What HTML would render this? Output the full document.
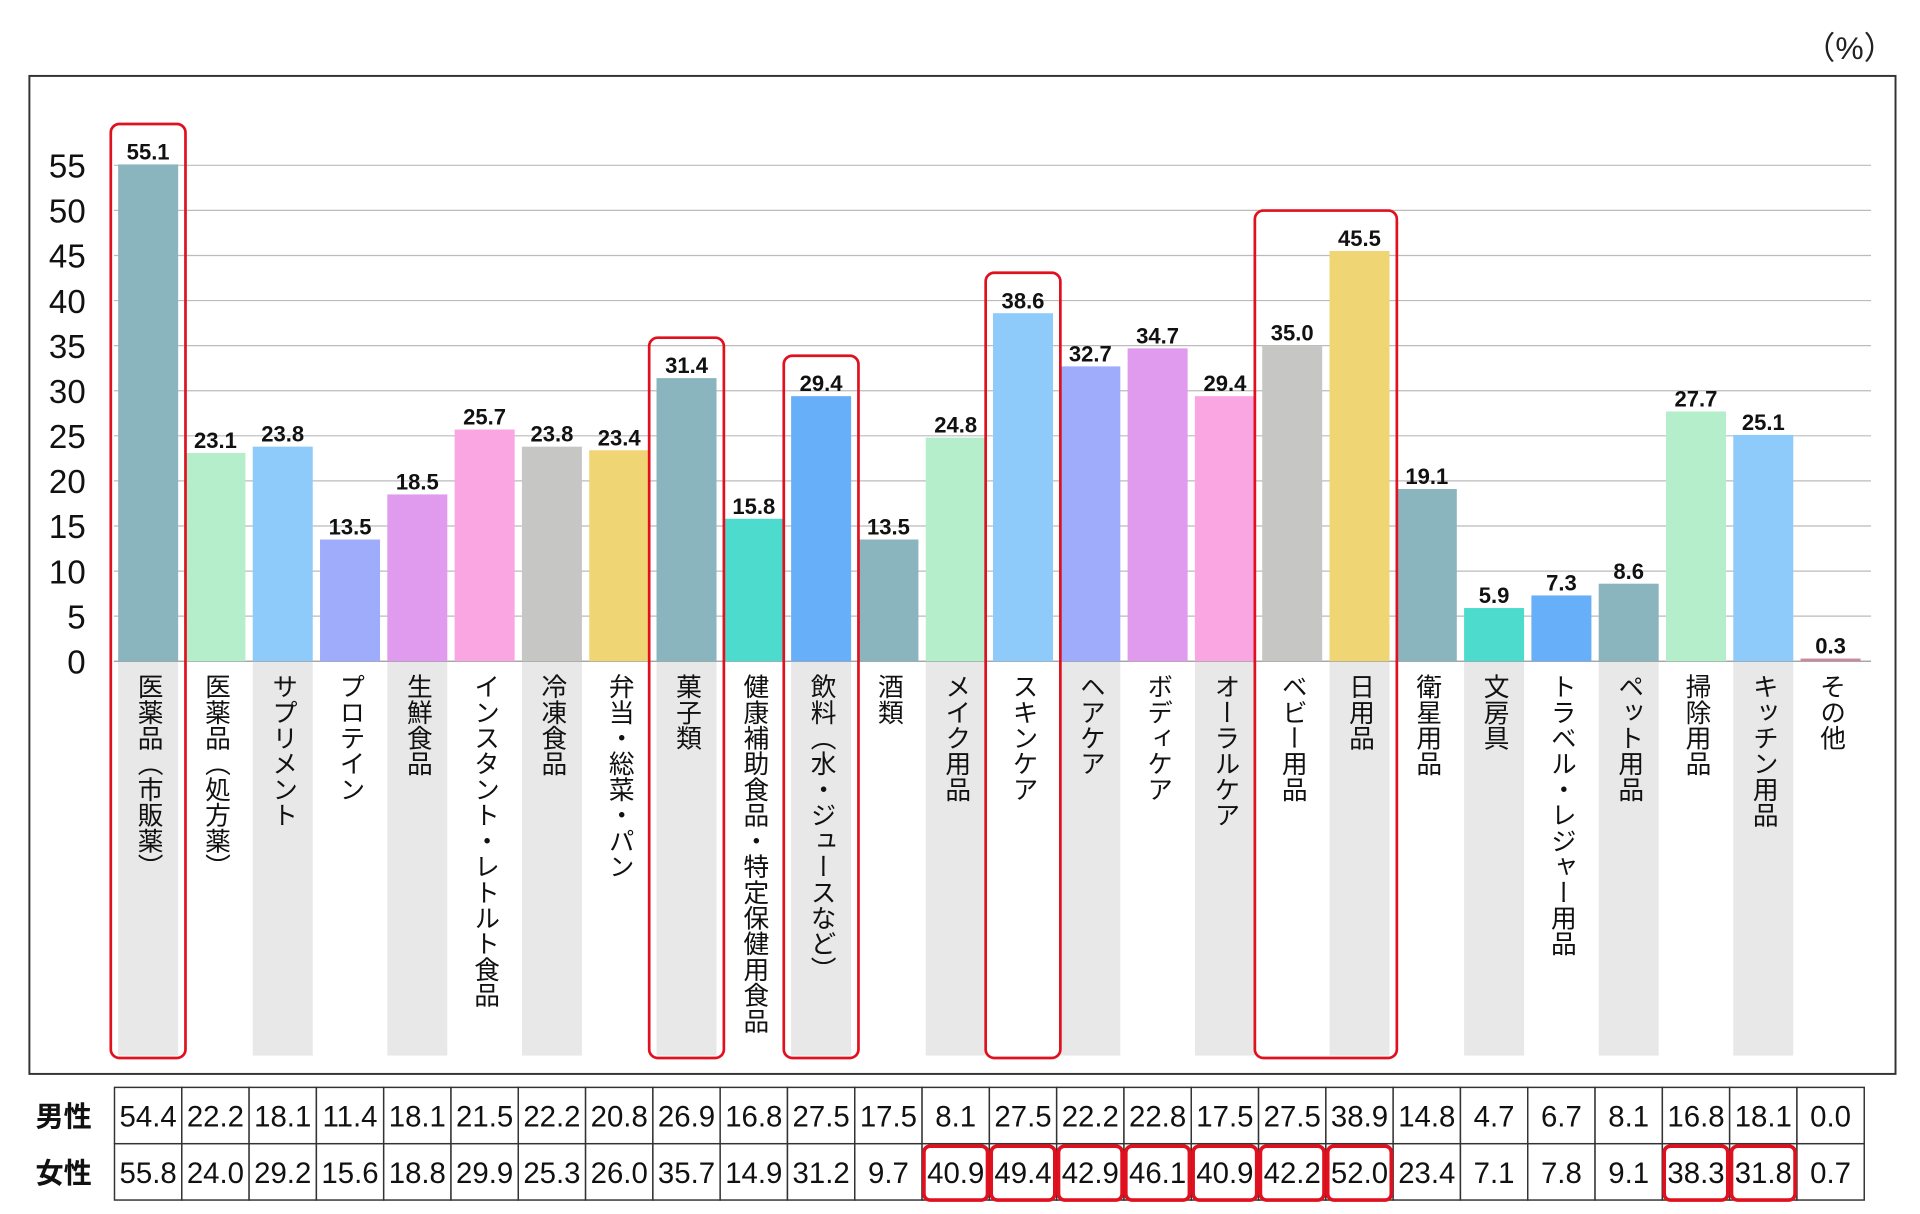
<!DOCTYPE html>
<html><head><meta charset="utf-8"><style>
html,body{margin:0;padding:0;background:#fff;}
svg{display:block;}
text{font-family:"Liberation Sans","Noto Sans CJK JP",sans-serif;}
</style></head><body>
<svg id="chart" width="1920" height="1214" viewBox="0 0 1568 991.4" preserveAspectRatio="none" xmlns="http://www.w3.org/2000/svg"></svg>
<script>
const categories=["医薬品（市販薬）","医薬品（処方薬）","サプリメント","プロテイン","生鮮食品","インスタント・レトルト食品","冷凍食品","弁当・総菜・パン","菓子類","健康補助食品・特定保健用食品","飲料（水・ジュースなど）","酒類","メイク用品","スキンケア","ヘアケア","ボディケア","オーラルケア","ベビー用品","日用品","衛星用品","文房具","トラベル・レジャー用品","ペット用品","掃除用品","キッチン用品","その他"];
const totalValues=[55.1,23.1,23.8,13.5,18.5,25.7,23.8,23.4,31.4,15.8,29.4,13.5,24.8,38.6,32.7,34.7,29.4,35.0,45.5,19.1,5.9,7.3,8.6,27.7,25.1,0.3];
const maleValues=[54.4,22.2,18.1,11.4,18.1,21.5,22.2,20.8,26.9,16.8,27.5,17.5,8.1,27.5,22.2,22.8,17.5,27.5,38.9,14.8,4.7,6.7,8.1,16.8,18.1,0.0];
const femaleValues=[55.8,24.0,29.2,15.6,18.8,29.9,25.3,26.0,35.7,14.9,31.2,9.7,40.9,49.4,42.9,46.1,40.9,42.2,52.0,23.4,7.1,7.8,9.1,38.3,31.8,0.7];
const yTicks=[0,5,10,15,20,25,30,35,40,45,50,55];
const highlightGroups=[[0,0],[8,8],[10,10],[13,13],[17,18]];
const femaleHighlights=[12,13,14,15,16,17,18,23,24];

const colors=["#8ab5bf","#b5eecb","#8ecbfb","#9eacfb","#e09bee","#f9a6e3","#c6c7c5","#f0d574","#8ab5bf","#4cdbcc","#68affa","#8ab5bf","#b5eecb","#8ecbfb","#9eacfb","#e09bee","#f9a6e3","#c6c7c5","#f0d574","#8ab5bf","#4cdbcc","#68affa","#8ab5bf","#b5eecb","#8ecbfb","#c98a9f"];
const NS="http://www.w3.org/2000/svg";
const svg=document.getElementById('chart');
const x0=93.5, pitch=54.96, barW=49, y0=540, yTop=135;
const yScale=v=>y0-(v/55)*(y0-yTop);
const xCenter=i=>x0+pitch*i+pitch/2;
function el(tag,attrs,parent){const e=document.createElementNS(NS,tag);for(const k in attrs)e.setAttribute(k,attrs[k]);(parent||svg).appendChild(e);return e;}

// frame
let f=el('rect',{x:24,y:62,width:1524,height:815,fill:'none',stroke:'#333','stroke-width':1.6});


let u=el('text',{x:1548,y:48,'text-anchor':'end','font-size':26,fill:'#222'});u.textContent='（%）';



// category panels
categories.forEach((c,i)=>{
  if(i%2===0){
    const p=el('rect',{x:xCenter(i)-barW/2,y:y0,width:barW,height:322,fill:'#e8e8e8'});
    
    
  }
});
// grid & ticks
yTicks.forEach(t=>{
  const y=yScale(t);
  const g=el('line',{x1:93,x2:1528,y1:y,y2:y,stroke:t===0?'#999':'#bbb','stroke-width':1});
  
  
  const tx=el('text',{x:70,y:y+10,'text-anchor':'end','font-size':27,fill:'#111'});
  tx.textContent=t;
  
  
});
// bars
totalValues.forEach((v,i)=>{
  const y=yScale(v);
  const b=el('rect',{x:xCenter(i)-barW/2,y:y,width:barW,height:y0-y,fill:colors[i]});
  
  
  const t=el('text',{x:xCenter(i),y:y-4,'text-anchor':'middle','font-size':18,'font-weight':'bold',fill:'#111'});
  t.textContent=v.toFixed(1);
  
  
  const c=el('text',{x:xCenter(i),y:y0+10,'font-size':21,fill:'#111','writing-mode':'tb','style':'writing-mode:vertical-rl'});
  c.textContent=categories[i];
  
  
});
// highlight boxes
highlightGroups.forEach(([a,b])=>{
  const top=yScale(Math.max(...totalValues.slice(a,b+1)))-33;
  const r=el('rect',{x:xCenter(a)-barW/2-6,y:top,width:xCenter(b)-xCenter(a)+barW+12,height:864-top,rx:7,fill:'none',stroke:'#e0101e','stroke-width':2.2});
  
  
});
// table
const tTop=888,rowH=46;
[['男性',maleValues],['女性',femaleValues]].forEach(([lab,vals],r)=>{
  const y=tTop+r*rowH;
  const l=el('text',{x:52,y:y+32,'text-anchor':'middle','font-size':23,'font-weight':'bold',fill:'#111'});
  l.textContent=lab;
  
  
  vals.forEach((v,i)=>{
    const cx=x0+pitch*i;
    const cell=el('rect',{x:cx,y:y,width:pitch,height:rowH,fill:'#fff',stroke:'#333','stroke-width':1.2});
    
    
    const t=el('text',{x:cx+pitch/2,y:y+32,'text-anchor':'middle','font-size':24,fill:'#111'});
    t.textContent=v.toFixed(1);
    
    
  });
});
femaleHighlights.forEach(i=>{
  const h=el('rect',{x:x0+pitch*i+1.5,y:tTop+rowH+2,width:pitch-3,height:rowH-2,rx:5,fill:'none',stroke:'#e0101e','stroke-width':3});
  
  
});
</script>
</body></html>
